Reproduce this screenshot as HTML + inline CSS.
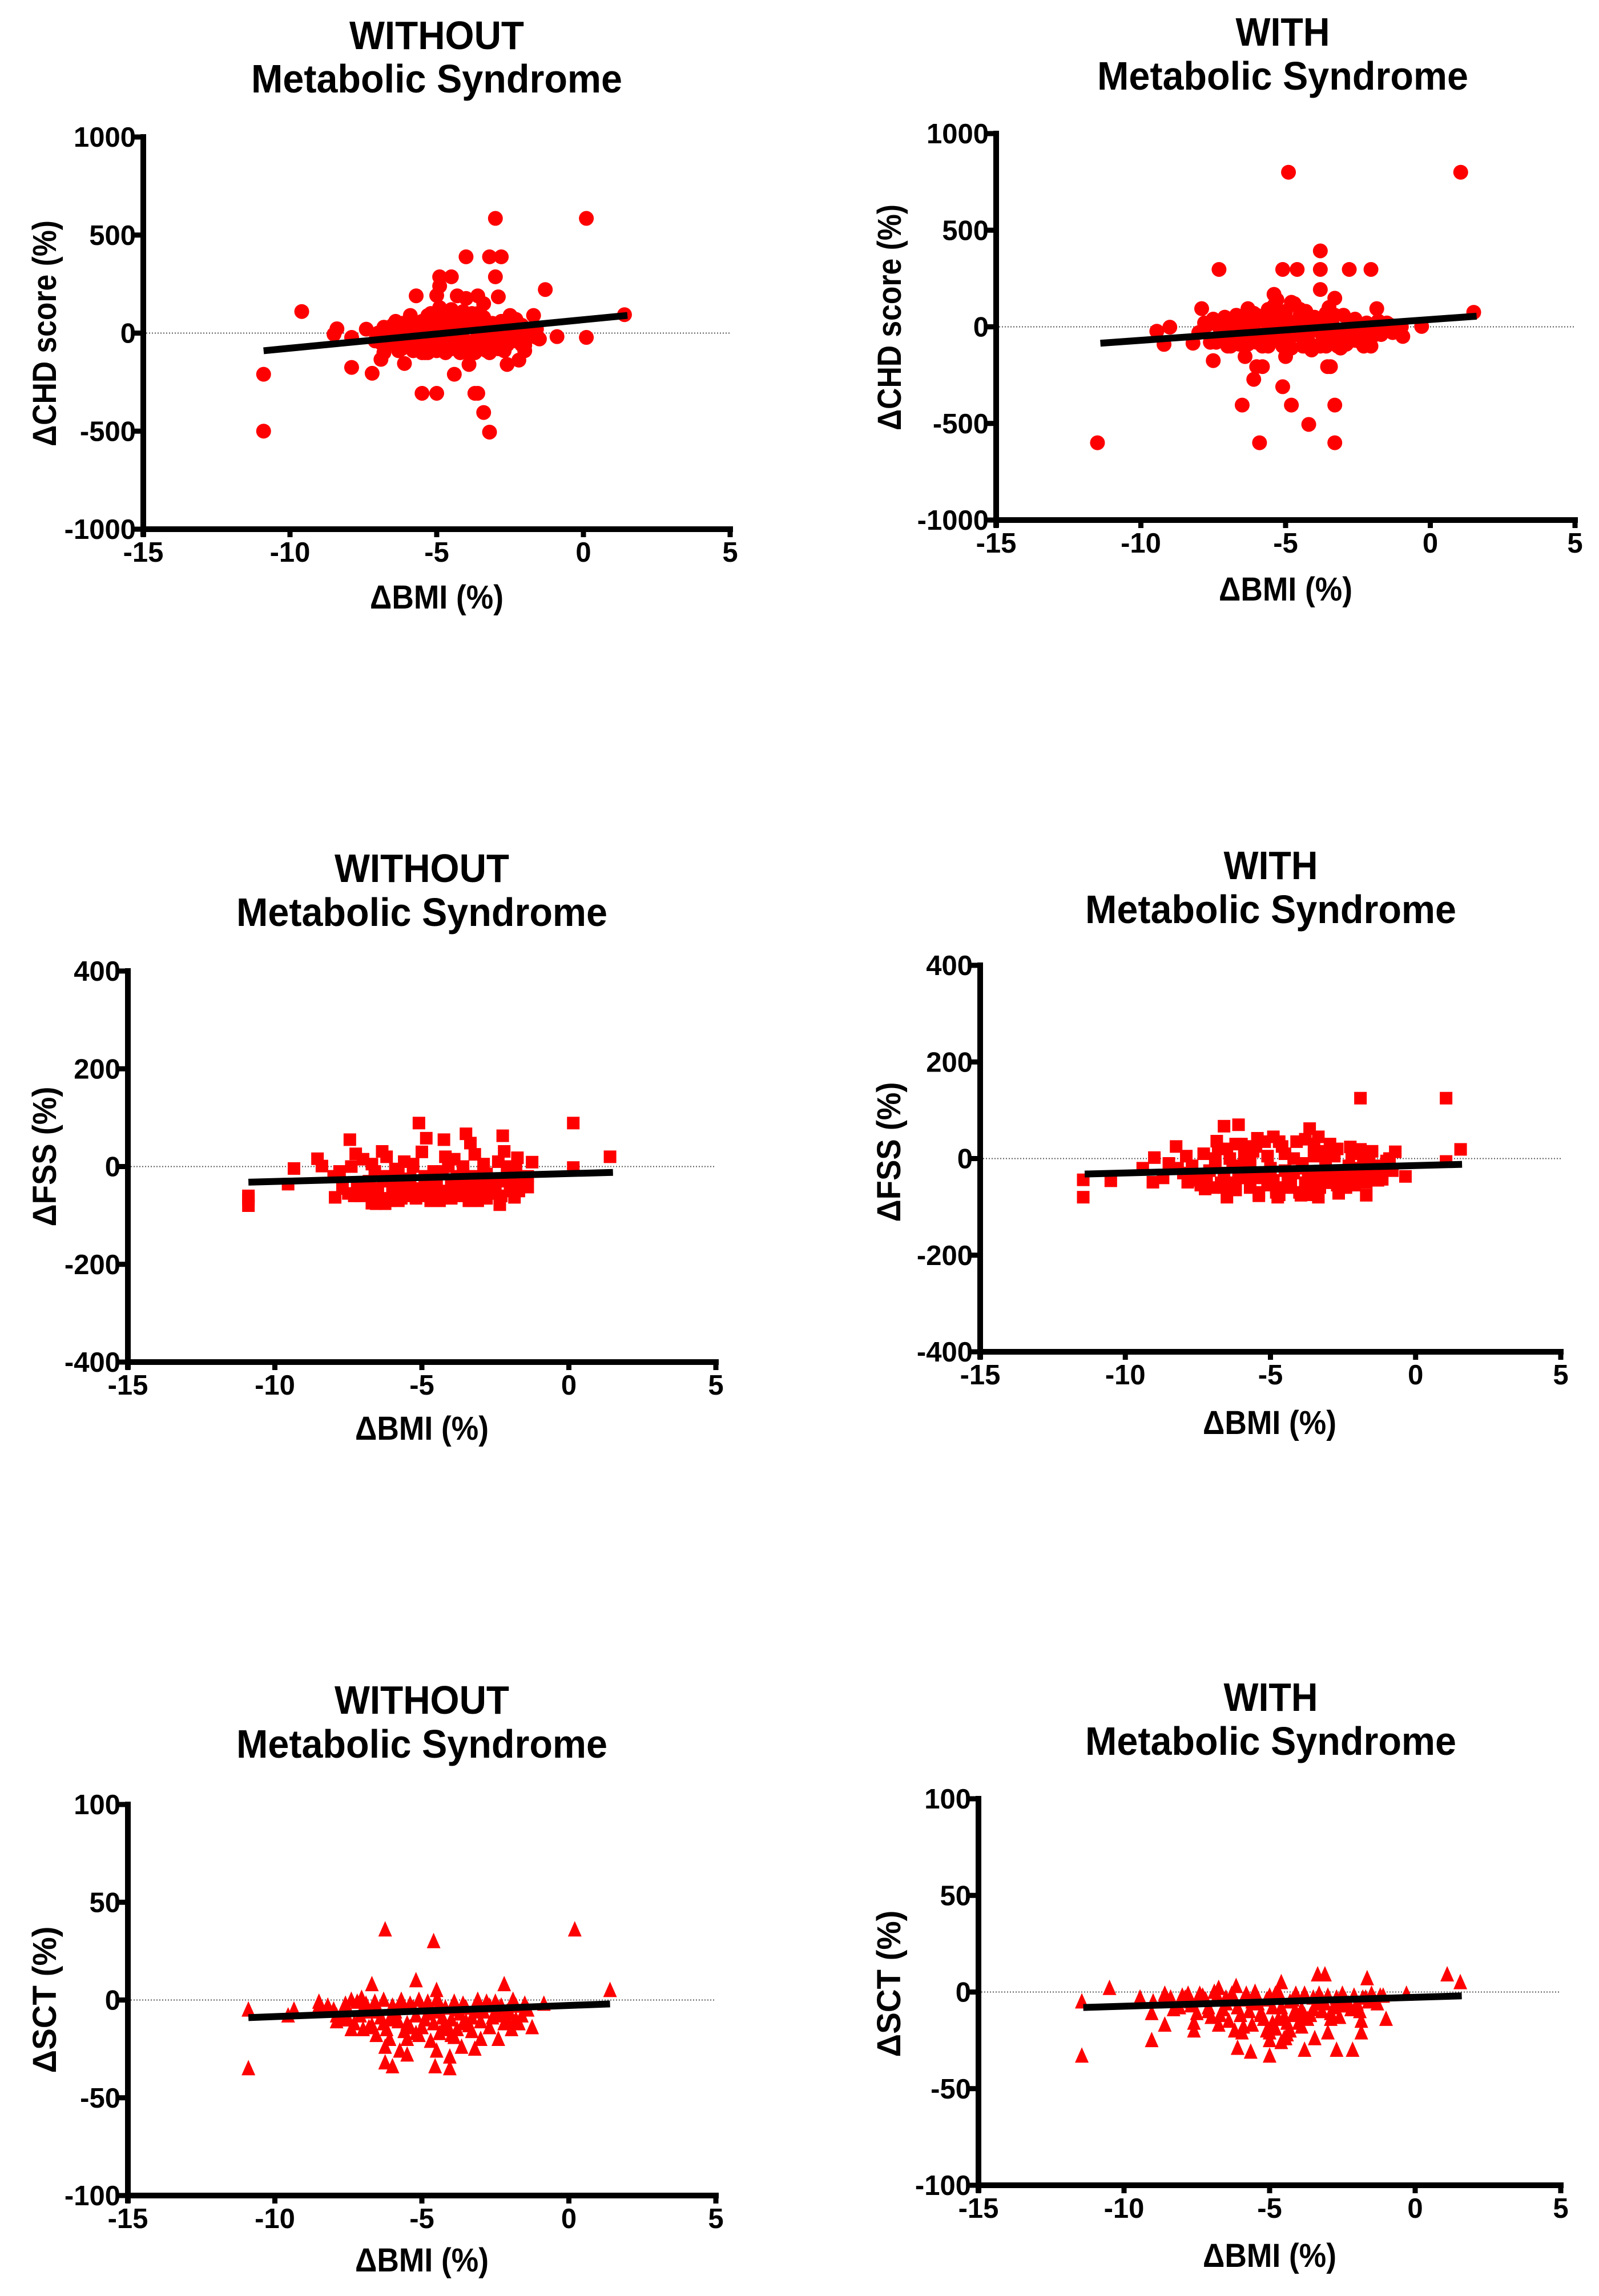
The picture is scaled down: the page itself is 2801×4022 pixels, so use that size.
<!DOCTYPE html>
<html><head><meta charset="utf-8"><style>
html,body{margin:0;padding:0;background:#fff;}
svg{display:block;}
text{font-family:"Liberation Sans",Arial,sans-serif;font-weight:bold;fill:#000;}
</style></head><body>
<svg id="fig" width="2801" height="4022" viewBox="0 0 2801 4022" xmlns="http://www.w3.org/2000/svg"></svg>
<script>
// ---------- data ----------
const xTickValues = [-15,-10,-5,0,5];
const chdTicks = [1000,500,0,-500,-1000];
const fssTicks = [400,200,0,-200,-400];
const sctTicks = [100,50,0,-50,-100];

// Panel 1: CHD without MetS
const p1X = [-9.6,-10.9,-10.9,-8.4,-8.5,-7.9,-7.9,-7.2,-6.9,-6.1,-5.7,-5.5,-5.0,-4.9,-4.5,-4.0,-3.0,-3.2,-2.8,-3.0,-2.9,-4.4,-3.9,-3.7,-3.6,-3.4,-3.2,-2.6,-2.2,-1.3,-1.7,-0.9,0.1,0.1,1.4,-4.9,-5.0,-4.3,-3.6,-4.0,-3.4,-2.5,-1.6,-2.0,
 -7.4,-7.1,-6.8,-6.6,-6.4,-6.2,-6.0,-5.8,-5.6,-5.5,-5.3,-5.2,-5.0,-4.9,-4.8,-4.6,-4.5,-4.4,-4.2,-4.1,-4.0,-3.8,-3.7,-3.6,-3.4,-3.3,-3.1,-3.0,-2.8,-2.6,-2.5,-2.3,-2.1,-1.9,-1.7,-1.5,-6.9,-6.3,-5.9,-5.4,-5.1,-4.7,-4.3,-3.9,-3.5,-3.2,-2.9,-2.4,-2.0,-1.6,-5.7,-5.0,-4.4,-3.8,-3.3,-2.7,-4.9,-4.1,-3.6,-5.3];
const p1Y = [110,-210,-500,22,-6,-22,-175,-205,-134,-155,190,-307,-307,287,287,389,585,389,389,287,185,-210,-160,-307,-307,-405,-505,-160,-138,222,90,-18,585,-22,94,240,192,190,190,177,150,90,-22,-63,
 20,-40,30,10,-20,50,-60,20,-80,60,-30,100,-90,40,80,-50,120,0,-100,60,-70,100,30,-40,80,-90,50,-20,60,-60,20,-40,40,-10,0,-30,-50,-70,70,-100,20,-20,-80,-100,-30,-100,-80,-20,-50,20,0,-40,40,-60,10,-70,130,110,-10,90];
const p1CloudX = [-7.0,-6.7,-6.5,-6.3,-6.1,-5.9,-5.7,-5.5,-5.3,-5.1,-4.9,-4.7,-4.5,-4.3,-4.1,-3.9,-3.7,-3.5,-3.3,-3.1,-2.9,-2.7,-2.5,-2.3,-2.1,-1.9,-6.8,-6.4,-6.0,-5.6,-5.2,-4.8,-4.4,-4.0,-3.6,-3.2,-2.8,-2.4,-2.0,-6.6,-6.2,-5.8,-5.4,-5.0,-4.6,-4.2,-3.8,-3.4,-3.0,-2.6,-2.2,-5.5,-5.1,-4.7,-4.3,-3.9,-3.5,-4.5,-4.0,-3.7];
const p1CloudY = [0,-60,40,-90,0,90,-40,30,-100,60,0,-70,50,-30,100,-60,70,10,-50,-10,30,-90,-10,70,-60,10,-100,60,-30,-20,40,-40,90,30,100,20,-30,40,-90,-30,-80,-90,30,20,0,-60,-90,-70,20,10,-20,-100,-50,-100,50,50,-50,-80,-40,-100];
const p1LineX = [-10.9,1.5];
const p1LineY = [-90,90];

// Panel 2: CHD with MetS
const p2X = [-4.9,1.05,-11.5,-5.9,-3.3,-4.2,-6.5,-4.8,-3.3,-5.1,-6.1,-6.0,-5.8,-3.55,-3.45,-5.0,-6.4,-7.5,-7.3,-5.1,-4.6,-3.8,-2.8,-2.05,-3.8,-3.8,-7.9,-6.3,-1.85,-5.4,-4.8,-3.3,1.5,-0.3,-9.45,-9.0,-9.2,-8.2,-2.3,-2.05,-0.95,
 -8.0,-7.7,-7.5,-7.2,-7.0,-6.8,-6.6,-6.4,-6.2,-6.0,-5.8,-5.6,-5.5,-5.3,-5.2,-5.0,-4.9,-4.7,-4.6,-4.4,-4.3,-4.1,-4.0,-3.8,-3.7,-3.5,-3.4,-3.2,-3.0,-2.8,-2.6,-2.4,-2.2,-2.0,-1.8,-1.6,-1.4,-1.2,-1.0,-7.4,-6.9,-6.5,-6.1,-5.7,-5.4,-5.1,-4.8,-4.5,-4.2,-3.9,-3.6,-3.3,-3.1,-2.7,-2.3,-1.9,-5.3,-4.9,-4.1,-3.5];
const p2Y = [800,800,-600,-600,-600,-505,-405,-405,-405,-310,-272,-206,-206,-206,-206,-154,-154,-175,297,297,297,297,297,297,393,193,94,94,94,168,127,148,75,2,-23,-2,-91,-85,-100,-100,-50,
 -30,10,40,-60,-20,20,-90,40,-50,60,-100,90,10,140,-70,80,-100,120,20,-60,80,-120,50,-90,30,100,-40,-100,60,-50,40,-80,20,-30,30,-20,10,-10,0,-80,-30,-60,70,-80,110,-40,-110,60,-80,-20,70,-60,-110,20,-70,-40,40,-10,10,-30];
const p2CloudX = [-7.8,-7.6,-7.3,-7.1,-6.9,-6.7,-6.5,-6.3,-6.1,-5.9,-5.7,-5.5,-5.3,-5.1,-4.9,-4.7,-4.5,-4.3,-4.1,-3.9,-3.7,-3.5,-3.3,-3.1,-2.9,-2.7,-2.5,-2.3,-2.1,-1.9,-1.7,-1.5,-1.3,-7.0,-6.6,-6.2,-5.8,-5.4,-5.0,-4.6,-4.2,-3.8,-3.4,-3.0,-2.6,-2.2,-1.8,-6.0,-5.6,-5.2,-4.8,-4.4,-4.0,-3.6,-3.2,-2.8];
const p2CloudY = [20,-80,0,50,-100,60,-20,-90,10,-60,30,-50,70,-100,30,-40,90,-100,-20,40,-60,0,60,-20,-90,0,-40,10,-70,-10,-40,20,-30,-100,30,-20,-40,0,-80,-10,40,-100,20,-30,-70,-50,20,-80,-100,-20,-50,-100,10,-100,-60,30];
const p2LineX = [-11.4,1.6];
const p2LineY = [-85,55];

// Panel 3: FSS without MetS
const p3X = [-10.9,-10.9,-10.9,-9.55,-9.35,-8.55,-8.4,-7.45,-7.25,-7.95,-6.35,-6.55,-6.25,-5.1,-4.85,-4.25,-3.5,-3.35,-2.25,-2.2,-1.75,-2.35,-1.85,-1.25,-1.4,0.15,0.15,1.4,
 -8.0,-7.7,-7.4,-7.1,-6.8,-6.6,-6.4,-6.2,-6.0,-5.8,-5.6,-5.4,-5.2,-5.0,-4.8,-4.6,-4.4,-4.2,-4.0,-3.8,-3.6,-3.4,-3.2,-3.0,-2.8,-2.6,-2.4,-2.2,-2.0,-1.8,-1.6,-1.4,-7.0,-6.5,-6.1,-5.7,-5.3,-4.9,-4.5,-4.1,-3.7,-3.3,-2.9,-2.5,-2.1,-1.7,-6.7,-5.5,-4.3,-3.1];
const p3Y = [-60,-67,-80,-36,-4,16,1,55,26,-63,31,-76,-76,89,58,55,67,48,63,31,18,-78,-63,9,-42,89,-2,20,
 -20,-45,0,-60,-30,-10,-65,20,-40,-70,10,-25,-65,30,-50,-10,-70,20,-35,-60,0,-70,25,-40,-15,-55,10,-30,-50,-5,-40,-20,15,-55,-20,-65,5,-30,-60,0,-45,-70,-10,-30,-20,-35,-75,-45,-50,-55];
const p3CloudX = [-7.8,-7.5,-7.2,-6.9,-6.7,-6.5,-6.3,-6.1,-5.9,-5.7,-5.5,-5.3,-5.1,-4.9,-4.7,-4.5,-4.3,-4.1,-3.9,-3.7,-3.5,-3.3,-3.1,-2.9,-2.7,-2.5,-2.3,-2.1,-1.9,-1.7,-7.3,-6.8,-6.3,-5.8,-5.3,-4.8,-4.3,-3.8,-3.3,-2.8,-2.3,-1.8,-6.0,-5.0,-4.0,-3.0,-5.6,-4.6,-3.6,-2.6];
const p3CloudY = [-10,-55,-35,-50,5,-45,-20,-70,-5,-40,-60,0,-45,-20,-70,-40,-10,-55,15,-30,-50,-20,-70,5,-55,-40,-60,0,-25,-50,-60,-40,-30,-15,-45,-25,-60,-20,-40,-65,-60,-15,-50,-60,-65,-30,-30,-70,-10,-40];
const p3LineX = [-10.9,1.5];
const p3LineY = [-32,-12];

// Panel 4: FSS with MetS
const p4X = [-11.45,-11.45,-10.5,-1.9,1.05,1.55,1.05,-6.6,-6.1,-8.25,-9.0,-9.4,-9.05,-3.65,-3.35,-4.9,-5.45,-6.85,-6.2,-2.95,-2.25,-1.9,-0.7,-0.35,-1.15,-7.25,-6.5,-5.4,-4.75,-3.95,-3.35,-2.65,-1.7,-7.85,-8.7,
 -8.2,-7.9,-7.6,-7.3,-7.0,-6.8,-6.6,-6.4,-6.2,-6.0,-5.8,-5.6,-5.4,-5.2,-5.0,-4.8,-4.6,-4.4,-4.2,-4.0,-3.8,-3.6,-3.4,-3.2,-3.0,-2.8,-2.6,-2.4,-2.2,-2.0,-1.8,-1.6,-1.4,-1.2,-1.0,-0.8,-7.5,-6.9,-6.3,-5.7,-5.1,-4.5,-3.9,-3.3,-2.7,-2.1,-1.5,-5.9,-4.7,-3.5];
const p4Y = [-44,-80,-46,125,125,19,-6,67,70,25,2,-20,-49,62,45,45,42,36,30,30,24,19,14,-37,-43,-63,-80,-77,-80,-76,-80,-72,-76,-49,-40,
 -20,5,-45,10,-60,20,-30,0,-65,30,-40,15,-70,35,-20,-60,25,-45,0,-70,40,-30,-65,15,-50,5,-35,-60,10,-25,-45,0,-35,-15,-5,-25,-35,-15,-50,-5,-55,-25,-10,-40,-55,-40,-20,25,35,5];
const p4CloudX = [-8.5,-8.0,-7.7,-7.4,-7.1,-6.9,-6.7,-6.5,-6.3,-6.1,-5.9,-5.7,-5.5,-5.3,-5.1,-4.9,-4.7,-4.5,-4.3,-4.1,-3.9,-3.7,-3.5,-3.3,-3.1,-2.9,-2.7,-2.5,-2.3,-2.1,-1.9,-1.7,-1.5,-1.3,-1.1,-0.9,-7.2,-6.6,-6.0,-5.4,-4.8,-4.2,-3.6,-3.0,-2.4,-1.8,-5.0,-4.4,-3.8,-3.2];
const p4CloudY = [-10,-30,-15,-55,-25,0,-50,20,-15,-40,0,-60,25,-30,5,-45,-75,10,-55,35,-20,-45,30,-60,-10,-35,20,-40,-15,-55,-20,-50,15,-45,-20,0,-45,-60,-25,-40,-70,-30,-75,-25,-30,-5,-20,-60,-50,-35];
const p4LineX = [-11.4,1.6];
const p4LineY = [-32,-12];

// Panel 5: SCT without MetS
const p5X = [-10.9,-10.9,-9.55,-9.35,-6.25,-4.6,0.2,-5.2,-6.7,-2.2,1.4,-4.5,-8.5,-7.05,-0.85,-7.9,-7.4,-7.0,-6.55,-6.25,-6.25,-6.0,-5.75,-5.5,-6.1,-4.55,-4.05,-4.05,-4.5,-4.7,-3.65,-3.2,-3.0,-2.4,-1.95,-1.25,-5.2,-4.0,
 -8.2,-7.9,-7.6,-7.3,-7.0,-6.8,-6.6,-6.4,-6.2,-6.0,-5.8,-5.6,-5.4,-5.2,-5.0,-4.8,-4.6,-4.4,-4.2,-4.0,-3.8,-3.6,-3.4,-3.2,-3.0,-2.8,-2.6,-2.4,-2.2,-2.0,-1.8,-1.6,-1.4,-7.5,-6.9,-6.3,-5.7,-5.1,-4.5,-3.9,-3.3,-2.7,-2.1,-5.5,-4.3,-3.5];
const p5Y = [-35,-5,-8,-5,36,30,36,10,8,8,5,5,-3,1,-2,-11,-15,-15,-18,-24,-32,-34,-26,-28,-20,-34,-35,-29,-26,-21,-24,-25,-20,-20,-15,-14,-17,-18,
 -3,-8,-2,-12,-4,-14,-1,-9,-15,-3,-11,-16,-2,-8,-14,-1,-12,-17,-4,-10,-15,-2,-13,-6,-11,-1,-9,-4,-12,-7,-3,-8,-5,-10,-6,-12,-1,-18,-6,-19,-9,-3,-6,-20,-15,-11];
const p5CloudX = [-8.5,-8.0,-7.7,-7.4,-7.1,-6.9,-6.7,-6.5,-6.3,-6.1,-5.9,-5.7,-5.5,-5.3,-5.1,-4.9,-4.7,-4.5,-4.3,-4.1,-3.9,-3.7,-3.5,-3.3,-3.1,-2.9,-2.7,-2.5,-2.3,-2.1,-1.9,-1.7,-1.5,-7.2,-6.6,-6.0,-5.4,-4.8,-4.2,-3.6,-3.0,-2.4,-1.8,-5.0,-4.4,-3.8];
const p5CloudY = [-1,-5,-10,0,-8,-2,-13,-5,0,-10,-6,0,-12,-4,0,-10,-5,0,-9,-14,-1,-7,-4,-16,0,-6,-14,-1,-3,-10,0,-12,-2,-1,-6,-8,-14,-7,-13,-12,-4,-8,-10,-4,-2,-5];
const p5LineX = [-10.9,1.4];
const p5LineY = [-9,-2];

// Panel 6: SCT with MetS
const p6X = [-11.45,-11.45,-10.5,-9.45,-9.05,-8.6,-9.05,-8.6,-7.6,-7.6,-6.75,-6.75,-6.15,-6.1,-5.65,-5.95,-5.0,-5.0,-4.6,-4.45,-3.8,-3.35,-3.1,-3.45,-3.0,-2.7,-2.15,-1.85,-1.85,-1.65,-1.0,-0.3,1.1,1.55,
 -8.4,-8.1,-7.8,-7.5,-7.2,-7.0,-6.8,-6.6,-6.4,-6.2,-6.0,-5.8,-5.6,-5.4,-5.2,-5.0,-4.8,-4.6,-4.4,-4.2,-4.0,-3.8,-3.6,-3.4,-3.2,-3.0,-2.8,-2.6,-2.4,-2.2,-2.0,-1.8,-1.6,-1.4,-1.2,-7.7,-7.1,-6.5,-5.9,-5.3,-4.7,-4.5,-4.3,-4.1,-3.9,-3.5,-2.9,-2.3,-5.1,-4.9];
const p6Y = [-33,-5,2,-3,-25,-17,-11,-2,-20,-16,-17,2,3,-29,-31,-21,-33,-25,5,-24,-30,9,9,-24,-21,-30,-30,-21,-15,7,-14,-1,9,5,
 -3,-8,-1,-11,-4,-13,-2,-9,-15,-4,-12,-1,-17,-6,-14,-2,-19,-8,-22,-4,-16,-1,-12,-6,-10,-2,-8,-13,-4,-9,-6,-3,-5,-4,-2,-7,-10,-6,-18,-11,-14,-24,-20,-10,-18,-9,-14,-6,-20,-16];
const p6CloudX = [-9.0,-8.6,-8.3,-8.0,-7.7,-7.4,-7.1,-6.9,-6.7,-6.5,-6.3,-6.1,-5.9,-5.7,-5.5,-5.3,-5.1,-4.9,-4.7,-4.5,-4.3,-4.1,-3.9,-3.7,-3.5,-3.3,-3.1,-2.9,-2.7,-2.5,-2.3,-2.1,-1.9,-1.7,-1.5,-1.3,-1.1,-7.9,-7.3,-6.2,-5.6,-5.0,-4.4,-3.8,-3.2,-2.6,-2.0,-4.6,-4.2,-4.8];
const p6CloudY = [-5,-1,-9,-2,-5,-1,-8,0,-12,-3,-1,-8,-4,-10,0,-12,-4,-8,0,-13,-5,-1,-9,-14,-3,-1,-6,-11,-3,-1,-7,-2,-10,-3,-1,-6,-2,-3,-2,-20,-5,-21,-16,-12,-4,-7,-8,-26,-12,-1];
const p6LineX = [-11.4,1.6];
const p6LineY = [-8,-2];

// ---------- drawing ----------
const NS = 'http://www.w3.org/2000/svg';
const svg = document.getElementById('fig');
function mk(tag, attrs, parent){
  const e = document.createElementNS(NS, tag);
  for (const k in attrs) e.setAttribute(k, attrs[k]);
  (parent||svg).appendChild(e);
  return e;
}
function txt(parent, s, x, y, size, anchor, extra){
  const t = mk('text', Object.assign({x:x, y:y, 'font-size':size, 'text-anchor':anchor||'middle'}, extra||{}), parent);
  t.textContent = s;
  return t;
}

function drawPanel(cfg, xs, ys, lx, ly, yTicks, marker){
  const g = mk('g', {});
  
  
  const L = cfg.L, R = cfg.R, T = cfg.T, B = cfg.B;
  const ymax = yTicks[0], ymin = yTicks[yTicks.length-1];
  const sx = v => L + (v - xTickValues[0]) / (xTickValues[xTickValues.length-1] - xTickValues[0]) * (R - L);
  const sy = v => T + (ymax - v) / (ymax - ymin) * (B - T);

  const t1 = txt(g, cfg.t1, cfg.cx, cfg.tb1, 70, 'middle', {textLength: cfg.t1w, lengthAdjust:'spacingAndGlyphs'});
  
  
  const t2 = txt(g, 'Metabolic Syndrome', cfg.cx, cfg.tb2, 70, 'middle', {textLength: 650, lengthAdjust:'spacingAndGlyphs'});
  
  

  const z = mk('line', {x1:L, x2:R, y1:sy(0), y2:sy(0), stroke:'#555', 'stroke-width':2, 'stroke-dasharray':'2,3'}, g);
  
  

  const pg = mk('g', {fill:'#ff0000'}, g);
  
  
  for (let i = 0; i < xs.length; i++){
    const px = sx(xs[i]), py = sy(ys[i]);
    let m;
    if (marker === 'circle') m = mk('circle', {cx:px, cy:py, r:13}, pg);
    else if (marker === 'square') m = mk('rect', {x:px-11, y:py-11, width:22, height:22}, pg);
    else m = mk('polygon', {points:(px)+','+(py-15)+' '+(px-12)+','+(py+12)+' '+(px+12)+','+(py+12)}, pg);
    
    
  }

  const rl = mk('line', {x1:sx(lx[0]), y1:sy(ly[0]), x2:sx(lx[1]), y2:sy(ly[1]), stroke:'#000', 'stroke-width':12}, g);
  
  

  const ya = mk('line', {x1:L, x2:L, y1:T-5, y2:B+13, stroke:'#000', 'stroke-width':10}, g);
  
  
  const xa = mk('line', {x1:L-5, x2:R+5, y1:B, y2:B, stroke:'#000', 'stroke-width':10}, g);
  
  

  yTicks.forEach(v => {
    const y = sy(v);
    const tk = mk('line', {x1:L-16, x2:L, y1:y, y2:y, stroke:'#000', 'stroke-width':9}, g);
    
    
    const tl = txt(g, String(v), L-13, y+17, 49, 'end');
    
    
  });
  xTickValues.forEach(v => {
    const x = sx(v);
    const tk = mk('line', {x1:x, x2:x, y1:B, y2:B+14, stroke:'#000', 'stroke-width':9}, g);
    
    
    const tl = txt(g, String(v), x, B+57, 49, 'middle');
    
    
  });

  const xt = txt(g, '\u0394BMI (%)', cfg.xlx, cfg.xly, 58, 'middle', {textLength:234, lengthAdjust:'spacingAndGlyphs'});
  
  
  const yt = txt(g, cfg.ylabel, 0, 0, 58, 'middle', {textLength:cfg.ylw, lengthAdjust:'spacingAndGlyphs', transform:'translate('+cfg.ylx+','+cfg.yly+') rotate(-90)'});
  
  
}

drawPanel({name:'chd-without-panel', L:251, R:1279, T:240, B:927, cx:765, tb1:86, tb2:162, t1:'WITHOUT', t1w:306, xlx:765, xly:1066, ylabel:'\u0394CHD score (%)', ylw:396, ylx:98, yly:584},
  p1X.concat(p1CloudX), p1Y.concat(p1CloudY), p1LineX, p1LineY, chdTicks, 'circle');
drawPanel({name:'chd-with-panel', L:1745, R:2759, T:234, B:911, cx:2247, tb1:80, tb2:157, t1:'WITH', t1w:165, xlx:2252, xly:1052, ylabel:'\u0394CHD score (%)', ylw:396, ylx:1578, yly:556},
  p2X.concat(p2CloudX), p2Y.concat(p2CloudY), p2LineX, p2LineY, chdTicks, 'circle');
drawPanel({name:'fss-without-panel', L:224, R:1254, T:1701, B:2386, cx:739, tb1:1545, tb2:1622, t1:'WITHOUT', t1w:306, xlx:739, xly:2522, ylabel:'\u0394FSS (%)', ylw:245, ylx:98, yly:2026},
  p3X.concat(p3CloudX), p3Y.concat(p3CloudY), p3LineX, p3LineY, fssTicks, 'square');
drawPanel({name:'fss-with-panel', L:1717, R:2734, T:1691, B:2368, cx:2226, tb1:1540, tb2:1617, t1:'WITH', t1w:165, xlx:2224, xly:2512, ylabel:'\u0394FSS (%)', ylw:245, ylx:1577, yly:2018},
  p4X.concat(p4CloudX), p4Y.concat(p4CloudY), p4LineX, p4LineY, fssTicks, 'square');
drawPanel({name:'sct-without-panel', L:224, R:1254, T:3161, B:3846, cx:739, tb1:3002, tb2:3079, t1:'WITHOUT', t1w:306, xlx:739, xly:3979, ylabel:'\u0394SCT (%)', ylw:257, ylx:98, yly:3503},
  p5X.concat(p5CloudX), p5Y.concat(p5CloudY), p5LineX, p5LineY, sctTicks, 'triangle');
drawPanel({name:'sct-with-panel', L:1714, R:2734, T:3151, B:3828, cx:2226, tb1:2997, tb2:3074, t1:'WITH', t1w:165, xlx:2224, xly:3971, ylabel:'\u0394SCT (%)', ylw:257, ylx:1577, yly:3475},
  p6X.concat(p6CloudX), p6Y.concat(p6CloudY), p6LineX, p6LineY, sctTicks, 'triangle');
</script>
</body></html>
